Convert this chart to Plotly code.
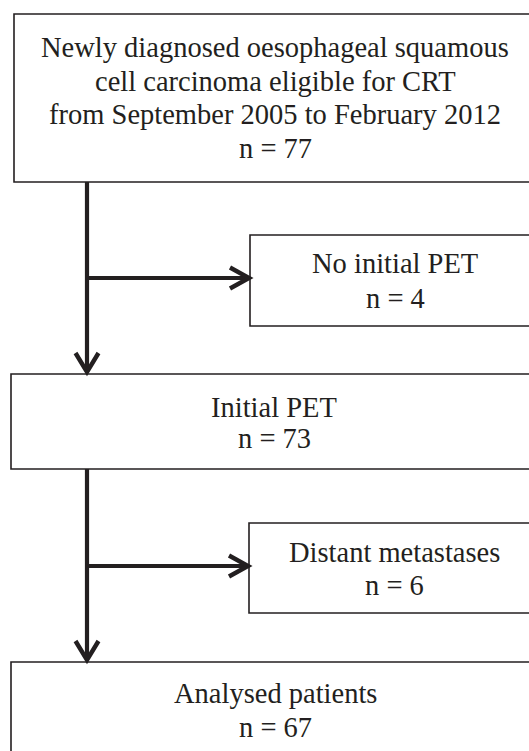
import plotly.graph_objects as go

# ---- data ----
stage_titles = [
    ["Newly diagnosed oesophageal squamous",
     "cell carcinoma eligible for CRT",
     "from September 2005 to February 2012"],
    ["No initial PET"],
    ["Initial PET"],
    ["Distant metastases"],
    ["Analysed patients"],
]
stage_n = [77, 4, 73, 6, 67]

# ---- layout geometry (pixel space) ----
W, H = 529, 751
box_x0 = [14, 250, 11, 249, 11]
box_y0 = [14, 235, 374, 523, 662]
box_y1 = [182, 326, 469, 613, 800]
box_x1 = [545, 545, 545, 545, 545]
text_cx = [275, 395, 274, 394.5, 275]
first_baseline = [57, 273, 417, 562, 703]
line_step = [33.7, 35, 31.5, 33, 34]

trunk_x = 87
branch_y = [278, 566]
ink = "#231f20"
font_family = "Liberation Serif, Times New Roman, serif"
fsize = 28.5

fig = go.Figure()
shapes = []
annotations = []

# boxes
for i in range(len(stage_n)):
    shapes.append(dict(type="rect", xref="x", yref="y",
                       x0=box_x0[i], x1=box_x1[i], y0=box_y0[i], y1=box_y1[i],
                       line=dict(color=ink, width=1.6), fillcolor="rgba(0,0,0,0)"))
    lines = stage_titles[i] + [f"n = {stage_n[i]}"]
    for j, t in enumerate(lines):
        base = first_baseline[i] + j * line_step[i]
        annotations.append(dict(x=text_cx[i], y=base - 9.6, xref="x", yref="y",
                                text=t, showarrow=False, xanchor="center", yanchor="middle",
                                font=dict(family=font_family, size=fsize, color=ink)))

def seg(x0, y0, x1, y1, w=4.2):
    shapes.append(dict(type="line", xref="x", yref="y", x0=x0, y0=y0, x1=x1, y1=y1,
                       line=dict(color=ink, width=w)))

def chevron_down(x, y):
    shapes.append(dict(type="path", xref="x", yref="y",
                       path=f"M {x-11.5},{y-21} L {x},{y-2} L {x+11.5},{y-21}",
                       line=dict(color=ink, width=4.4)))

def chevron_right(x, y):
    shapes.append(dict(type="path", xref="x", yref="y",
                       path=f"M {x-21},{y-10.5} L {x-2},{y} L {x-21},{y+10.5}",
                       line=dict(color=ink, width=4.4)))

# vertical trunks with down arrows
seg(trunk_x, box_y1[0], trunk_x, box_y0[2] - 3)
chevron_down(trunk_x, box_y0[2])
seg(trunk_x, box_y1[2], trunk_x, box_y0[4] - 3)
chevron_down(trunk_x, box_y0[4])

# horizontal branches
seg(trunk_x, branch_y[0], box_x0[1] - 3, branch_y[0])
chevron_right(box_x0[1] + 1, branch_y[0])
seg(trunk_x, branch_y[1], box_x0[3] - 3, branch_y[1])
chevron_right(box_x0[3] + 1, branch_y[1])

fig.update_layout(
    width=W, height=H,
    margin=dict(l=0, r=0, t=0, b=0),
    paper_bgcolor="white", plot_bgcolor="white",
    xaxis=dict(range=[0, W], visible=False, fixedrange=True),
    yaxis=dict(range=[H, 0], visible=False, fixedrange=True),
    shapes=shapes, annotations=annotations, showlegend=False,
)

fig.write_html("out.html", config={"displayModeBar": False},
               post_script="document.body.style.margin='0';document.body.style.overflow='hidden';")
